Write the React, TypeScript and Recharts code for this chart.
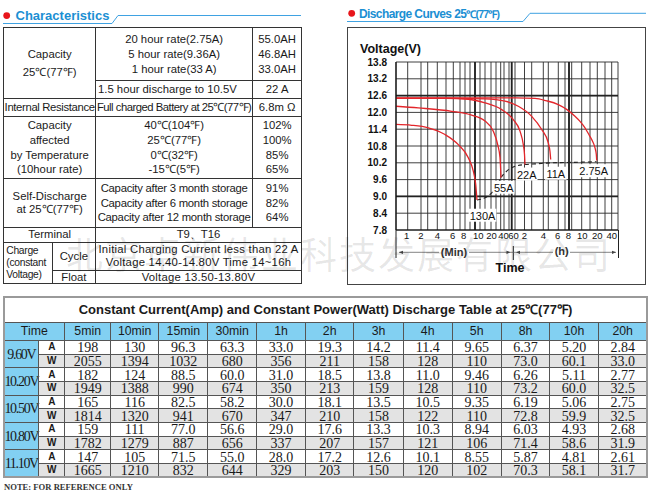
import React from "react";
import {
  LineChart,
  Line,
  XAxis,
  YAxis,
  CartesianGrid,
  ReferenceLine,
  ReferenceDot,
} from "recharts";

const FONT = "'Liberation Sans', Arial, Helvetica, sans-serif";
const SERIF = "'Liberation Serif', 'Times New Roman', serif";
const BLUE = "#1b8fd3";
const RED = "#e3262b";
const LIGHT_BLUE = "#82d0f2";

// ---- discharge curves: x is the position on the sheet's (non-linear) time axis
const timeTickPos = [10.7, 25, 41.3, 56.7, 67.7, 82.3, 95.5, 107.5, 117.5, 128.5, 147.3, 161.7, 172.3, 186.3, 201.3, 215.7];
const timeTickLabels = ["1", "2", "4", "6", "8", "10", "20", "40", "60", "2", "4", "6", "8", "10", "20", "40"];
const gridX = [0, 11.7, 25, 31.7, 41.3, 50, 57.3, 64, 69, 74, 79, 84, 89, 95, 100, 104.7, 108, 113, 115.7, 119, 128.5, 135.7, 147.3, 152.3, 162.3, 169, 173, 175.7, 185.7, 194, 201.3, 209, 215.7, 222];
const boldGridX = [79, 115.7, 173];
const voltTicks = [13.8, 13.2, 12.6, 12.0, 11.4, 10.8, 10.2, 9.6, 9.0, 8.4, 7.8];
const boldVolt = [12.6, 9.0];

const curve2p75A = [
  { t: 0, v: 12.52 }, { t: 60, v: 12.52 }, { t: 120, v: 12.52 }, { t: 139, v: 12.5 },
  { t: 150, v: 12.42 }, { t: 162.3, v: 12.28 }, { t: 171, v: 12.1 }, { t: 179, v: 11.86 },
  { t: 184, v: 11.68 }, { t: 189, v: 11.45 }, { t: 193, v: 11.2 }, { t: 195.7, v: 11.03 },
  { t: 199, v: 10.73 }, { t: 200.3, v: 10.5 }, { t: 200.7, v: 10.28 },
];
const curve11A = [
  { t: 0, v: 12.5 }, { t: 60, v: 12.5 }, { t: 89, v: 12.48 }, { t: 109, v: 12.4 },
  { t: 122.3, v: 12.22 }, { t: 135.7, v: 11.86 }, { t: 145.7, v: 11.39 }, { t: 152.3, v: 10.91 },
  { t: 154, v: 10.6 }, { t: 154.7, v: 10.32 },
];
const curve22A = [
  { t: 0, v: 12.5 }, { t: 50, v: 12.5 }, { t: 72.3, v: 12.47 }, { t: 89, v: 12.34 },
  { t: 105.7, v: 12.1 }, { t: 117.3, v: 11.74 }, { t: 124, v: 11.33 }, { t: 127.3, v: 10.85 },
  { t: 128.5, v: 10.5 }, { t: 129, v: 10.14 },
];
const curve55A = [
  { t: 0, v: 12.22 }, { t: 22.3, v: 12.16 }, { t: 55.7, v: 12.04 }, { t: 75.7, v: 11.9 },
  { t: 89, v: 11.69 }, { t: 97.3, v: 11.33 }, { t: 101.7, v: 10.85 }, { t: 104, v: 10.38 },
  { t: 105, v: 9.67 },
];
const curve130A = [
  { t: 0, v: 11.57 }, { t: 15.7, v: 11.54 }, { t: 32.3, v: 11.45 }, { t: 49, v: 11.21 },
  { t: 62.3, v: 10.85 }, { t: 72.3, v: 10.38 }, { t: 77.3, v: 9.9 }, { t: 79.7, v: 9.43 },
  { t: 81, v: 8.87 },
];
const endVoltage = [
  { t: 81, v: 8.87 }, { t: 89, v: 8.95 }, { t: 95.7, v: 9.13 }, { t: 100.7, v: 9.37 },
  { t: 105, v: 9.67 }, { t: 110.7, v: 9.9 }, { t: 117.3, v: 10.05 }, { t: 129, v: 10.14 },
  { t: 139, v: 10.16 }, { t: 154.7, v: 10.2 }, { t: 169, v: 10.21 }, { t: 182.3, v: 10.22 },
  { t: 200.7, v: 10.24 },
];
const currentNames = ["130A", "55A", "22A", "11A", "2.75A"];
const currentTagT = [86.5, 107.7, 130.7, 159.8, 197.7];
const currentTagV = [8.31, 9.31, 9.78, 9.81, 9.9];

// ---- characteristics
const capacityRates = ["20 hour rate(2.75A)", "5 hour rate(9.36A)", "1 hour rate(33 A)"];
const capacityValues = ["55.0AH", "46.8AH", "33.0AH"];
const tempLabels = ["40℃(104℉)", "25℃(77℉)", "0℃(32℉)", "-15℃(5℉)"];
const tempValues = ["102%", "100%", "85%", "65%"];
const storageLabels = ["Capacity after 3 month storage", "Capacity after 6 month storage", "Capacity after 12 month storage"];
const storageValues = ["91%", "82%", "64%"];

// ---- constant current / power table
const tableTimes = ["5min", "10min", "15min", "30min", "1h", "2h", "3h", "4h", "5h", "8h", "10h", "20h"];
const tableVolts = ["9.60V", "10.20V", "10.50V", "10.80V", "11.10V"];
const ampRows = [
  ["198", "130", "96.3", "63.3", "33.0", "19.3", "14.2", "11.4", "9.65", "6.37", "5.20", "2.84"],
  ["182", "124", "88.5", "60.0", "31.0", "18.5", "13.8", "11.0", "9.46", "6.26", "5.11", "2.77"],
  ["165", "116", "82.5", "58.2", "30.0", "18.1", "13.5", "10.5", "9.35", "6.19", "5.06", "2.75"],
  ["159", "111", "77.0", "56.6", "29.0", "17.6", "13.3", "10.3", "8.94", "6.03", "4.93", "2.68"],
  ["147", "105", "71.5", "55.0", "28.0", "17.2", "12.6", "10.1", "8.55", "5.87", "4.81", "2.61"],
];
const wattRows = [
  ["2055", "1394", "1032", "680", "356", "211", "158", "128", "110", "73.0", "60.1", "33.0"],
  ["1949", "1388", "990", "674", "350", "213", "159", "128", "110", "73.2", "60.0", "32.5"],
  ["1814", "1320", "941", "670", "347", "210", "158", "122", "110", "72.8", "59.9", "32.5"],
  ["1782", "1279", "887", "656", "337", "207", "157", "121", "106", "71.4", "58.6", "31.9"],
  ["1665", "1210", "832", "644", "329", "203", "150", "120", "102", "70.3", "58.1", "31.7"],
];

// table layout
const colX = [3.3, 38.3, 64.3, 110, 158.3, 207.3, 256, 305, 353.3, 402.7, 451.7, 500.7, 549.3, 597.7, 646.7];
const rowY = [340, 353.7, 367.3, 381, 394.7, 408.3, 422, 435.7, 449.3, 463, 476.7];

interface BoxProps {
  x0: number;
  x1: number;
  y0: number;
  y1: number;
  lines: string[];
  lh?: number;
  fs?: number;
  ls?: number;
  align?: "center" | "left";
  bg?: string;
  family?: string;
  weight?: string | number;
  border?: string;
  pt?: number;
}

const Box = ({
  x0, x1, y0, y1, lines, lh = 15, fs = 11.3, ls = 0, align = "center",
  bg, family = FONT, weight = "normal", border = "1px solid #333", pt = 0,
}: BoxProps) => (
  <div
    style={{
      position: "absolute",
      left: x0,
      top: y0,
      width: x1 - x0 + 1,
      height: y1 - y0 + 1,
      boxSizing: "border-box",
      border,
      background: bg,
      display: "flex",
      flexDirection: "column",
      justifyContent: "center",
      alignItems: align === "center" ? "center" : "flex-start",
      paddingLeft: align === "left" ? 2 : 0,
      paddingTop: pt,
      fontSize: fs,
      lineHeight: lh + "px",
      letterSpacing: ls,
      fontFamily: family,
      fontWeight: weight,
      color: "#1a1a1a",
      whiteSpace: "nowrap",
    }}
  >
    {lines.map((l, i) => (
      <div key={i}>{l}</div>
    ))}
  </div>
);

const CharacteristicsTable = () => (
  <>
    <Box x0={3.3} x1={95} y0={27.3} y1={97.7} lines={["Capacity", "25℃(77℉)"]} lh={18} />
    <Box x0={95} x1={252.3} y0={27.3} y1={80} lines={capacityRates} />
    <Box x0={252.3} x1={301} y0={27.3} y1={80} lines={capacityValues} />
    <Box x0={95} x1={252.3} y0={80} y1={97.7} lines={["1.5 hour discharge to 10.5V"]} align="left" />
    <Box x0={252.3} x1={301} y0={80} y1={97.7} lines={["22 A"]} />
    <Box x0={3.3} x1={95} y0={97.7} y1={116} lines={["Internal Resistance"]} ls={-0.35} />
    <Box x0={95} x1={252.3} y0={97.7} y1={116} lines={["Full charged Battery at 25℃(77℉)"]} ls={-0.5} />
    <Box x0={252.3} x1={301} y0={97.7} y1={116} lines={["6.8m Ω"]} />
    <Box x0={3.3} x1={95} y0={116} y1={178.3} lines={["Capacity", "affected", "by Temperature", "(10hour rate)"]} lh={14.8} />
    <Box x0={95} x1={252.3} y0={116} y1={178.3} lines={tempLabels} lh={14.8} />
    <Box x0={252.3} x1={301} y0={116} y1={178.3} lines={tempValues} lh={14.8} />
    <Box x0={3.3} x1={95} y0={178.3} y1={226.7} lines={["Self-Discharge", "at 25℃(77℉)"]} lh={13} />
    <Box x0={95} x1={252.3} y0={178.3} y1={226.7} lines={storageLabels} lh={14.8} ls={-0.25} />
    <Box x0={252.3} x1={301} y0={178.3} y1={226.7} lines={storageValues} lh={14.8} />
    <Box x0={3.3} x1={95} y0={226.7} y1={241.7} lines={["Terminal"]} />
    <Box x0={95} x1={301} y0={226.7} y1={241.7} lines={["T9、T16"]} />
    <Box x0={3.3} x1={51.7} y0={241.7} y1={283.3} lines={["Charge", "(constant", "Voltage)"]} lh={12} fs={10.3} ls={-0.3} align="left" />
    <Box x0={51.7} x1={95} y0={241.7} y1={270} lines={["Cycle"]} />
    <Box x0={95} x1={301} y0={241.7} y1={270} lines={["Initial Charging Current less than 22 A", "Voltage 14.40-14.80V  Time 14~16h"]} lh={13.3} ls={0.25} />
    <Box x0={51.7} x1={95} y0={270} y1={283.3} lines={["Float"]} />
    <Box x0={95} x1={301} y0={270} y1={283.3} lines={["Voltage 13.50-13.80V"]} ls={0.25} />
  </>
);

const DischargeTable = () => (
  <>
    <Box
      x0={3.3} x1={646.7} y0={296.7} y1={321.7}
      lines={["Constant Current(Amp) and Constant Power(Watt) Discharge Table at 25℃(77℉)"]}
      fs={13} weight="bold" border="1px solid #555"
    />
    <Box x0={colX[0]} x1={colX[2]} y0={321.7} y1={340} lines={["Time"]} fs={12.3} bg={LIGHT_BLUE} border="1px solid #555" />
    {tableTimes.map((h, i) => (
      <Box key={h} x0={colX[i + 2]} x1={colX[i + 3]} y0={321.7} y1={340} lines={[h]} fs={12.3} bg={LIGHT_BLUE} border="1px solid #555" />
    ))}
    {tableVolts.map((volt, k) => (
      <React.Fragment key={volt}>
        <Box x0={colX[0]} x1={colX[1]} y0={rowY[2 * k]} y1={rowY[2 * k + 2]} lines={[volt]} fs={14} ls={-1.3} family={SERIF} bg={LIGHT_BLUE} border="1px solid #555" />
        <Box x0={colX[1]} x1={colX[2]} y0={rowY[2 * k]} y1={rowY[2 * k + 1]} lines={["A"]} fs={10} weight="bold" lh={12} border="1px solid #555" />
        <Box x0={colX[1]} x1={colX[2]} y0={rowY[2 * k + 1]} y1={rowY[2 * k + 2]} lines={["W"]} fs={10} weight="bold" lh={12} bg="#e3e3e3" border="1px solid #555" />
        {ampRows[k].map((val, i) => (
          <Box key={"a" + i} x0={colX[i + 2]} x1={colX[i + 3]} y0={rowY[2 * k]} y1={rowY[2 * k + 1]} lines={[val]} fs={14} lh={12} pt={2} family={SERIF} border="1px solid #555" />
        ))}
        {wattRows[k].map((val, i) => (
          <Box key={"w" + i} x0={colX[i + 2]} x1={colX[i + 3]} y0={rowY[2 * k + 1]} y1={rowY[2 * k + 2]} lines={[val]} fs={14} lh={12} pt={2} family={SERIF} bg="#e3e3e3" border="1px solid #555" />
        ))}
      </React.Fragment>
    ))}
    <div
      style={{
        position: "absolute",
        left: 3,
        top: 296,
        width: 644.5,
        height: 182,
        boxSizing: "border-box",
        border: "2px solid #9a9a9a",
      }}
    />
  </>
);

const CurrentTag = (props: any) => {
  const { cx, cy, text } = props;
  const w = text.length * 6.2 + 3;
  return (
    <g>
      <rect x={cx - w / 2} y={cy - 7} width={w} height={13} fill="#fff" />
      <text x={cx} y={cy + 4} textAnchor="middle" fontSize={11} fontFamily={FONT} fill="#111">
        {text}
      </text>
    </g>
  );
};

const DischargeChart = () => (
  <div style={{ position: "absolute", left: 347, top: 27, width: 299, height: 258 }}>
    <LineChart width={299} height={258} margin={{ top: 35, right: 28, left: 0, bottom: 0 }}>
      <CartesianGrid stroke="#2a2a2a" strokeWidth={0.9} verticalValues={gridX} />
      <XAxis
        type="number"
        dataKey="t"
        domain={[0, 222]}
        ticks={timeTickPos}
        interval={0}
        tickFormatter={(v: number) => timeTickLabels[timeTickPos.indexOf(v)]}
        tickLine={false}
        tickSize={0}
        tickMargin={2}
        height={55}
        axisLine={{ stroke: "#111", strokeWidth: 1.2 }}
        tick={{ fill: "#111", fontSize: 9.5, fontFamily: FONT }}
      />
      <YAxis
        type="number"
        domain={[7.8, 13.8]}
        ticks={voltTicks}
        interval={0}
        tickFormatter={(v: number) => v.toFixed(1)}
        width={49}
        tickLine={false}
        tickSize={0}
        tickMargin={9}
        axisLine={{ stroke: "#111", strokeWidth: 1.2 }}
        tick={{ fill: "#111", fontSize: 10, fontWeight: 600, fontFamily: FONT }}
      />
      {boldGridX.map((x) => (
        <ReferenceLine key={"x" + x} x={x} stroke="#222" strokeWidth={1.8} />
      ))}
      {boldVolt.map((v) => (
        <ReferenceLine key={"y" + v} y={v} stroke="#222" strokeWidth={1.8} />
      ))}
      <Line data={endVoltage} dataKey="v" type="monotone" stroke="#222" strokeWidth={1.1} strokeDasharray="4 3" dot={false} isAnimationActive={false} />
      <Line data={curve2p75A} dataKey="v" type="monotone" stroke={RED} strokeWidth={1.3} dot={false} isAnimationActive={false} />
      <Line data={curve11A} dataKey="v" type="monotone" stroke={RED} strokeWidth={1.3} dot={false} isAnimationActive={false} />
      <Line data={curve22A} dataKey="v" type="monotone" stroke={RED} strokeWidth={1.3} dot={false} isAnimationActive={false} />
      <Line data={curve55A} dataKey="v" type="monotone" stroke={RED} strokeWidth={1.3} dot={false} isAnimationActive={false} />
      <Line data={curve130A} dataKey="v" type="monotone" stroke={RED} strokeWidth={1.3} dot={false} isAnimationActive={false} />
      {currentNames.map((name, i) => (
        <ReferenceDot
          key={name}
          x={currentTagT[i]}
          y={currentTagV[i]}
          r={0}
          shape={(p: any) => <CurrentTag {...p} text={name} />}
        />
      ))}
    </LineChart>
  </div>
);

// headings, axis captions and the min / h arrows
const Decorations = () => (
  <svg width={651} height={491} style={{ position: "absolute", left: 0, top: 0, pointerEvents: "none" }}>
    <circle cx={6.7} cy={15.6} r={3.4} fill="#e8161b" />
    <text x={15.5} y={20} fontSize={13} fontWeight="bold" fill={BLUE} fontFamily={FONT}>
      Characteristics
    </text>
    <polyline points="3,23.5 112,23.5 118,15.5 301,15.5" fill="none" stroke="#3fa2e2" strokeWidth={1} />

    <circle cx={351.7} cy={13.3} r={3.4} fill="#e8161b" />
    <text x={359} y={17.6} fontSize={12} fontWeight="bold" fill={BLUE} fontFamily={FONT} letterSpacing={-0.6}>
      Discharge Curves 25
      <tspan fontSize={10.5} letterSpacing={-0.8}>℃(77℉)</tspan>
    </text>
    <polyline points="347,21.5 523,21.5 530,13.3 646,13.3" fill="none" stroke="#3fa2e2" strokeWidth={1} />

    <text x={360} y={52.5} fontSize={12.5} fontWeight="bold" fill="#111" fontFamily={FONT}>
      Voltage(V)
    </text>

    <line x1={396} y1={230} x2={396} y2={258} stroke="#222" strokeWidth={1} />
    <line x1={618.5} y1={230} x2={618.5} y2={258} stroke="#222" strokeWidth={1} />
    <line x1={513.3} y1={246} x2={513.3} y2={260} stroke="#222" strokeWidth={1} />
    <line x1={399} y1={252.3} x2={616} y2={252.3} stroke="#666" strokeWidth={0.8} />
    <path d="M399,252.3 l4,-1.6 v3.2 z M510.5,252.3 l-4,-1.6 v3.2 z M516,252.3 l4,-1.6 v3.2 z M616,252.3 l-4,-1.6 v3.2 z" fill="#444" />
    <rect x={439} y={246} width={30} height={12} fill="#fff" />
    <text x={454} y={256} textAnchor="middle" fontSize={11} fontWeight="bold" fill="#333" fontFamily={FONT}>
      (Min)
    </text>
    <rect x={553} y={245} width={17} height={12} fill="#fff" />
    <text x={561.7} y={255} textAnchor="middle" fontSize={11} fontWeight="bold" fill="#333" fontFamily={FONT}>
      (h)
    </text>
    <text x={510} y={271.5} textAnchor="middle" fontSize={12.5} fontWeight="bold" fill="#111" fontFamily={FONT}>
      Time
    </text>
  </svg>
);

export default function App() {
  return (
    <div
      style={{
        position: "relative",
        width: 651,
        height: 491,
        background: "#fff",
        overflow: "hidden",
        fontFamily: FONT,
      }}
    >
      <style>{"body{margin:0}"}</style>
      <CharacteristicsTable />
      {/* chart frame */}
      <div
        style={{
          position: "absolute",
          left: 347,
          top: 26.7,
          width: 299,
          height: 258.3,
          boxSizing: "border-box",
          border: "1px solid #444",
        }}
      />
      <DischargeChart />
      <Decorations />
      <DischargeTable />
      <div
        style={{
          position: "absolute",
          left: 4,
          top: 482,
          fontFamily: SERIF,
          fontWeight: "bold",
          fontSize: 8.6,
          color: "#333",
          whiteSpace: "nowrap",
        }}
      >
        NOTE: FOR REFERENCE ONLY
      </div>
      {/* watermark */}
      <div
        style={{
          position: "absolute",
          left: 66,
          top: 231,
          fontSize: 37,
          letterSpacing: 2,
          lineHeight: "44px",
          color: "rgba(0,0,0,0.1)",
          fontFamily: "'Noto Sans CJK SC', sans-serif",
          whiteSpace: "nowrap",
          pointerEvents: "none",
        }}
      >
        北京卓新伟业科技发展有限公司
      </div>
    </div>
  );
}
